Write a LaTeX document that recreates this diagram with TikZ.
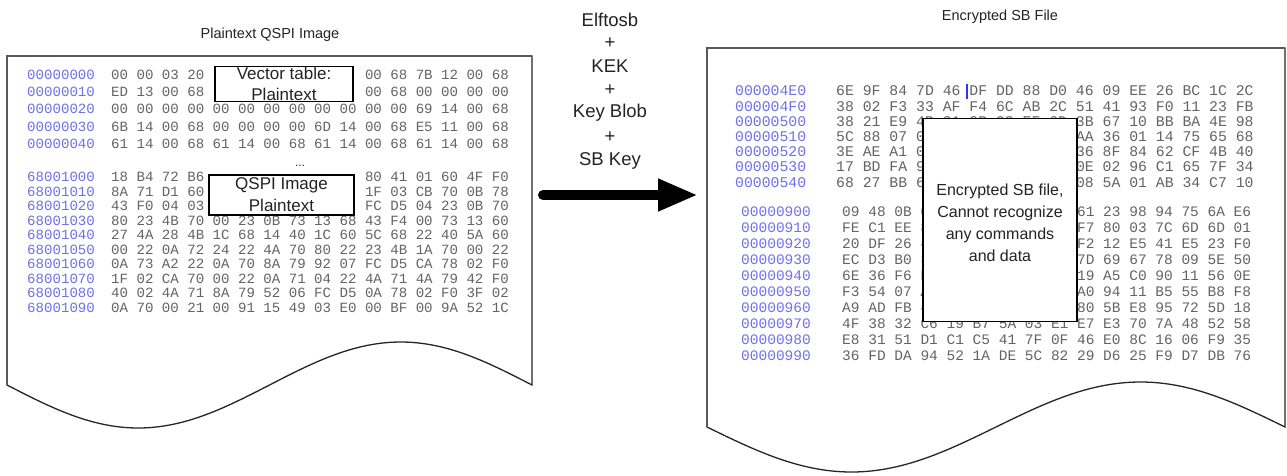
\documentclass[tikz,border=0pt]{standalone}
\usepackage{fontspec}
\setmainfont{Liberation Sans}
\newfontfamily\hexfamily{Liberation Mono}
\usetikzlibrary{arrows.meta}
\definecolor{addrblue}{RGB}{112,112,232}
\definecolor{hexgray}{RGB}{100,100,100}
\definecolor{txtgray}{RGB}{35,35,35}
\newcommand\hexL{\hexfamily\fontsize{14.1}{14.1}\selectfont}
\newcommand\hexRU{\hexfamily\fontsize{14.8}{14.8}\selectfont}
\newcommand\hexRL{\hexfamily\fontsize{14.5}{14.5}\selectfont}
\tikzset{
  docshape/.style={fill=white, draw=black!85, line width=1.3pt},
  docedge/.style={draw=black!65, line width=2.6pt},
  hexrowL/.style={anchor=west, inner sep=0pt, font=\hexL, text=hexgray},
  addrL/.style={anchor=west, inner sep=0pt, font=\hexL, text=addrblue},
  hexrowRU/.style={anchor=west, inner sep=0pt, font=\hexRU, text=hexgray},
  addrRU/.style={anchor=west, inner sep=0pt, font=\hexRU, text=addrblue},
  hexrowRL/.style={anchor=west, inner sep=0pt, font=\hexRL, text=hexgray},
  addrRL/.style={anchor=west, inner sep=0pt, font=\hexRL, text=addrblue},
  covbox/.style={draw=black, fill=white, line width=1.4pt},
  boxtext/.style={inner sep=0pt, font=\fontsize{17}{17}\selectfont, text=txtgray},
  rboxtext/.style={inner sep=0pt, font=\fontsize{16}{16}\selectfont, text=txtgray},
  midtext/.style={inner sep=0pt, font=\fontsize{18.5}{18.5}\selectfont, text=txtgray},
  titletext/.style={inner sep=0pt, font=\fontsize{14.5}{14.5}\selectfont, text=txtgray},
  bigarrow/.style={line width=10pt, line cap=round, -{Triangle[length=40pt,width=30pt]}}
}
\begin{document}
\begin{tikzpicture}[x=1pt,y=-1pt]
\useasboundingbox (0,0) rectangle (1287,475);

% ---------------- left document ----------------
\node[titletext] (ltitle) at (270,35) {Plaintext QSPI Image};
\path[docshape] (7,56) -- (532,56) -- (532,385) sin (400.75,342) cos (269.5,385) sin (138.25,428) cos (7,385) -- cycle;
\draw[docedge] (7,385) -- (7,56) -- (532,56);

\node[addrL] (la0) at (27,75) {00000000};
\node[hexrowL] (lb0) at (111,75) {00 00 03 20};
\node[hexrowL] (lc0) at (364.8,75) {00 68 7B 12 00 68};
\node[addrL] (la1) at (27,92) {00000010};
\node[hexrowL] (lb1) at (111,92) {ED 13 00 68};
\node[hexrowL] (lc1) at (364.8,92) {00 68 00 00 00 00};
\node[addrL] (la2) at (27,109) {00000020};
\node[hexrowL] (lb2) at (111,109) {00 00 00 00 00 00 00 00 00 00 00 00 69 14 00 68};
\node[addrL] (la3) at (27,126.5) {00000030};
\node[hexrowL] (lb3) at (111,126.5) {6B 14 00 68 00 00 00 00 6D 14 00 68 E5 11 00 68};
\node[addrL] (la4) at (27,144) {00000040};
\node[hexrowL] (lb4) at (111,144) {61 14 00 68 61 14 00 68 61 14 00 68 61 14 00 68};

\node[addrL] (la5) at (27,177) {68001000};
\node[hexrowL] (lb5) at (111,177) {18 B4 72 B6};
\node[hexrowL] (lc5) at (364.8,177) {80 41 01 60 4F F0};
\node[addrL] (la6) at (27,191.5) {68001010};
\node[hexrowL] (lb6) at (111,191.5) {8A 71 D1 60};
\node[hexrowL] (lc6) at (364.8,191.5) {1F 03 CB 70 0B 78};
\node[addrL] (la7) at (27,206) {68001020};
\node[hexrowL] (lb7) at (111,206) {43 F0 04 03};
\node[hexrowL] (lc7) at (364.8,206) {FC D5 04 23 0B 70};
\node[addrL] (la8) at (27,220.5) {68001030};
\node[hexrowL] (lb8) at (111,220.5) {80 23 4B 70 00 23 0B 73 13 68 43 F4 00 73 13 60};
\node[addrL] (la9) at (27,235) {68001040};
\node[hexrowL] (lb9) at (111,235) {27 4A 28 4B 1C 68 14 40 1C 60 5C 68 22 40 5A 60};
\node[addrL] (la10) at (27,249.5) {68001050};
\node[hexrowL] (lb10) at (111,249.5) {00 22 0A 72 24 22 4A 70 80 22 23 4B 1A 70 00 22};
\node[addrL] (la11) at (27,264) {68001060};
\node[hexrowL] (lb11) at (111,264) {0A 73 A2 22 0A 70 8A 79 92 07 FC D5 CA 78 02 F0};
\node[addrL] (la12) at (27,278.5) {68001070};
\node[hexrowL] (lb12) at (111,278.5) {1F 02 CA 70 00 22 0A 71 04 22 4A 71 4A 79 42 F0};
\node[addrL] (la13) at (27,293) {68001080};
\node[hexrowL] (lb13) at (111,293) {40 02 4A 71 8A 79 52 06 FC D5 0A 78 02 F0 3F 02};
\node[addrL] (la14) at (27,307.5) {68001090};
\node[hexrowL] (lb14) at (111,307.5) {0A 70 00 21 00 91 15 49 03 E0 00 BF 00 9A 52 1C};

\node[covbox, minimum width=138pt, minimum height=35pt] (vbox) at (284,84) {};
\node[boxtext] (vt1) at (284,73) {Vector table:};
\node[boxtext] (vt2) at (284,94) {Plaintext};

\node[inner sep=0pt, font=\fontsize{12}{12}\selectfont, text=txtgray] (ldots) at (300,166) {...};
\node[covbox, minimum width=145pt, minimum height=40pt] (qbox) at (281.5,195) {};
\node[boxtext] (qt1) at (281.5,185) {QSPI Image};
\node[boxtext] (qt2) at (281.5,205) {Plaintext};

% ---------------- middle ----------------
\node[midtext] (m1) at (610,20) {Elftosb};
\node[midtext] (m2) at (610,43) {+};
\node[midtext] (m3) at (610,66) {KEK};
\node[midtext] (m4) at (610,90) {+};
\node[midtext] (m5) at (610,113) {Key Blob};
\node[midtext] (m6) at (610,137) {+};
\node[midtext] (m7) at (610,161) {SB Key};
\coordinate (astart) at (543,195);
\coordinate (aend) at (698,195);
\draw[bigarrow] (astart) -- (aend);

% ---------------- right document ----------------
\node[titletext] (rtitle) at (1000,17) {Encrypted SB File};
\path[docshape] (707,48) -- (1285,48) -- (1285,427) sin (1140.5,382) cos (996,427) sin (851.5,472) cos (707,427) -- cycle;
\draw[docedge] (707,427) -- (707,48) -- (1285,48);

\node[addrRU] (ra0) at (735,91) {000004E0};
\node[hexrowRU] (rb0) at (836,91) {6E 9F 84 7D 46 DF DD 88 D0 46 09 EE 26 BC 1C 2C};
\coordinate (cur1) at (967,84);
\coordinate (cur2) at (967,99);
\draw[blue!80, line width=1.3pt] (cur1) -- (cur2);
\node[addrRU] (ra1) at (735,106.2) {000004F0};
\node[hexrowRU] (rb1) at (836,106.2) {38 02 F3 33 AF F4 6C AB 2C 51 41 93 F0 11 23 FB};
\node[addrRU] (ra2) at (735,121.4) {00000500};
\node[hexrowRU] (rb2) at (836,121.4) {38 21 E9 4B 31 0B 93 EF 6D 3B 67 10 BB BA 4E 98};
\node[addrRU] (ra3) at (735,136.6) {00000510};
\node[hexrowRU] (rb3) at (836,136.6) {5C 88 07 0};
\node[hexrowRU] (rc3) at (1075.8,136.6) {AA 36 01 14 75 65 68};
\node[addrRU] (ra4) at (735,151.8) {00000520};
\node[hexrowRU] (rb4) at (836,151.8) {3E AE A1 0};
\node[hexrowRU] (rc4) at (1075.8,151.8) {36 8F 84 62 CF 4B 40};
\node[addrRU] (ra5) at (735,167) {00000530};
\node[hexrowRU] (rb5) at (836,167) {17 BD FA 9};
\node[hexrowRU] (rc5) at (1075.8,167) {0E 02 96 C1 65 7F 34};
\node[addrRU] (ra6) at (735,182.2) {00000540};
\node[hexrowRU] (rb6) at (836,182.2) {68 27 BB 6};
\node[hexrowRU] (rc6) at (1075.8,182.2) {08 5A 01 AB 34 C7 10};

\node[addrRL] (ra7) at (741,212) {00000900};
\node[hexrowRL] (rb7) at (842,212) {09 48 0B 0};
\node[hexrowRL] (rc7) at (1076.9,212) {61 23 98 94 75 6A E6};
\node[addrRL] (ra8) at (741,228) {00000910};
\node[hexrowRL] (rb8) at (842,228) {FE C1 EE 8};
\node[hexrowRL] (rc8) at (1076.9,228) {F7 80 03 7C 6D 6D 01};
\node[addrRL] (ra9) at (741,244) {00000920};
\node[hexrowRL] (rb9) at (842,244) {20 DF 26 4};
\node[hexrowRL] (rc9) at (1076.9,244) {F2 12 E5 41 E5 23 F0};
\node[addrRL] (ra10) at (741,260) {00000930};
\node[hexrowRL] (rb10) at (842,260) {EC D3 B0 3};
\node[hexrowRL] (rc10) at (1076.9,260) {7D 69 67 78 09 5E 50};
\node[addrRL] (ra11) at (741,276) {00000940};
\node[hexrowRL] (rb11) at (842,276) {6E 36 F6 D};
\node[hexrowRL] (rc11) at (1076.9,276) {19 A5 C0 90 11 56 0E};
\node[addrRL] (ra12) at (741,292) {00000950};
\node[hexrowRL] (rb12) at (842,292) {F3 54 07 A};
\node[hexrowRL] (rc12) at (1076.9,292) {A0 94 11 B5 55 B8 F8};
\node[addrRL] (ra13) at (741,308) {00000960};
\node[hexrowRL] (rb13) at (842,308) {A9 AD FB 4};
\node[hexrowRL] (rc13) at (1076.9,308) {80 5B E8 95 72 5D 18};
\node[addrRL] (ra14) at (741,324) {00000970};
\node[hexrowRL] (rb14) at (842,324) {4F 38 32 C6 19 B7 5A 03 E1 E7 E3 70 7A 48 52 58};
\node[addrRL] (ra15) at (741,340) {00000980};
\node[hexrowRL] (rb15) at (842,340) {E8 31 51 D1 C1 C5 41 7F 0F 46 E0 8C 16 06 F9 35};
\node[addrRL] (ra16) at (741,356) {00000990};
\node[hexrowRL] (rb16) at (842,356) {36 FD DA 94 52 1A DE 5C 82 29 D6 25 F9 D7 DB 76};

\node[covbox, minimum width=154pt, minimum height=203pt] (ebox) at (1000,220) {};
\node[rboxtext] (e1) at (1000,191) {Encrypted SB file,};
\node[rboxtext] (e2) at (1000,213) {Cannot recognize};
\node[rboxtext] (e3) at (1000,235) {any commands};
\node[rboxtext] (e4) at (1000,256) {and data};
\end{tikzpicture}
\end{document}
